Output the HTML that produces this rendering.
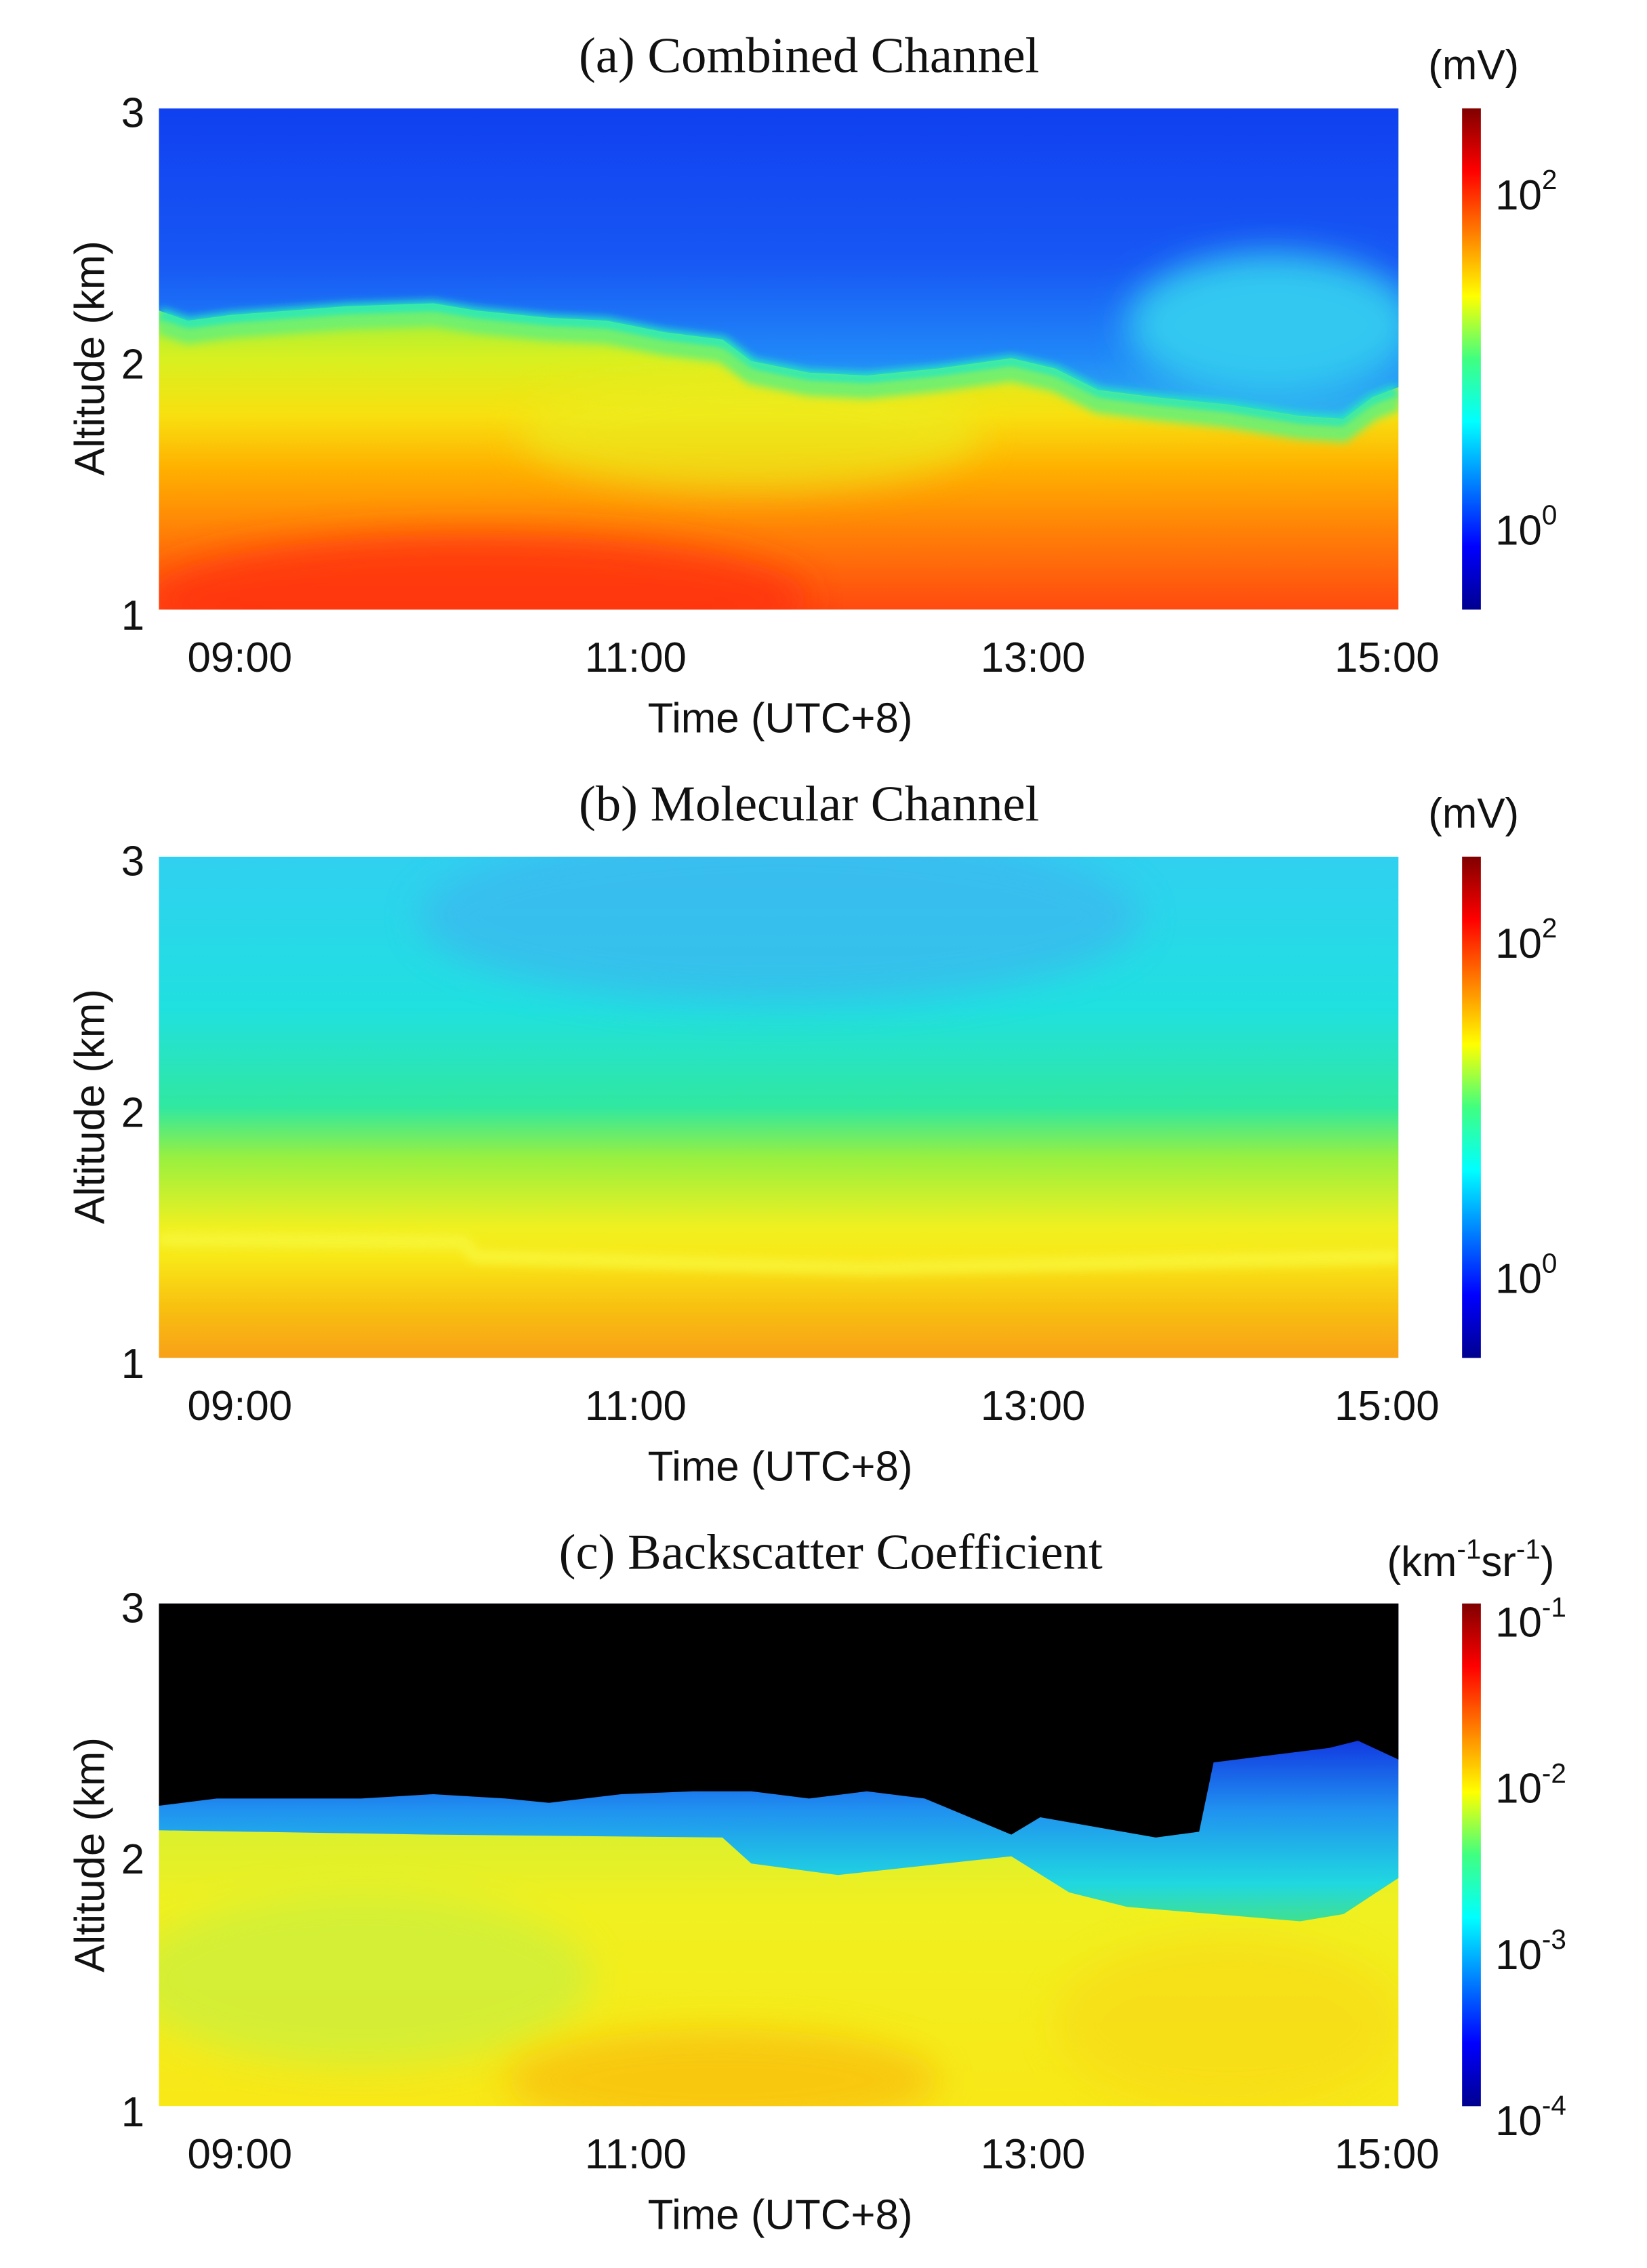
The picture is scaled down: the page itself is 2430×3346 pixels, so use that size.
<!DOCTYPE html>
<html><head><meta charset="utf-8"><style>
html,body{margin:0;padding:0;background:#fff;}
svg{display:block;}
.t{font-family:"Liberation Serif",serif;font-size:35px;fill:#111;}
.k{font-family:"Liberation Sans",sans-serif;font-size:29px;fill:#111;}
</style></head><body>
<svg width="2430" height="3346" viewBox="0 0 1140 1570" preserveAspectRatio="none" xmlns="http://www.w3.org/2000/svg">
<defs>
<linearGradient id="jet" x1="0" y1="1" x2="0" y2="0">
<stop offset="0" stop-color="#00008f"/><stop offset="0.125" stop-color="#0000ff"/><stop offset="0.375" stop-color="#00ffff"/><stop offset="0.5" stop-color="#40ff80"/><stop offset="0.625" stop-color="#ffff00"/><stop offset="0.875" stop-color="#ff0000"/><stop offset="1" stop-color="#800000"/>
</linearGradient>
<filter id="b3" x="-20%" y="-50%" width="140%" height="200%"><feGaussianBlur stdDeviation="3"/></filter>
<filter id="b8" x="-50%" y="-100%" width="200%" height="300%"><feGaussianBlur stdDeviation="12"/></filter>
<linearGradient id="aLow" gradientUnits="userSpaceOnUse" x1="0" y1="205" x2="0" y2="422">
<stop offset="0" stop-color="#90f040"/><stop offset="0.2" stop-color="#d8f020"/><stop offset="0.38" stop-color="#f8e010"/><stop offset="0.55" stop-color="#ffb000"/><stop offset="0.78" stop-color="#ff7a08"/><stop offset="1" stop-color="#ff4a10"/>
</linearGradient>
<linearGradient id="aUp" gradientUnits="userSpaceOnUse" x1="0" y1="75" x2="0" y2="290">
<stop offset="0" stop-color="#1040f0"/><stop offset="0.5" stop-color="#1858f4"/><stop offset="0.8" stop-color="#2088f8"/><stop offset="1" stop-color="#30b0f0"/>
</linearGradient>
<linearGradient id="bG" gradientUnits="userSpaceOnUse" x1="0" y1="593" x2="0" y2="940">
<stop offset="0" stop-color="#30d0f0"/><stop offset="0.3" stop-color="#20e0e0"/><stop offset="0.5" stop-color="#30e8a0"/><stop offset="0.6" stop-color="#98f040"/><stop offset="0.74" stop-color="#f0f020"/><stop offset="0.8" stop-color="#f8e818"/><stop offset="0.9" stop-color="#f8c010"/><stop offset="1" stop-color="#f8a018"/>
</linearGradient>
<linearGradient id="cLow" gradientUnits="userSpaceOnUse" x1="0" y1="1260" x2="0" y2="1458">
<stop offset="0" stop-color="#d8f030"/><stop offset="0.3" stop-color="#f0f020"/><stop offset="1" stop-color="#f8e818"/>
</linearGradient>
<linearGradient id="cMid" gradientUnits="userSpaceOnUse" x1="0" y1="1200" x2="0" y2="1330">
<stop offset="0" stop-color="#1030e0"/><stop offset="0.4" stop-color="#2090f0"/><stop offset="0.8" stop-color="#20d8e0"/><stop offset="1" stop-color="#40e090"/>
</linearGradient>
<clipPath id="ca"><rect x="110" y="75" width="858" height="347"/></clipPath>
<clipPath id="cb"><rect x="110" y="593" width="858" height="347"/></clipPath>
<clipPath id="cc"><rect x="110" y="1110" width="858" height="348"/></clipPath>
</defs>

<!-- Panel a -->
<g clip-path="url(#ca)">
<rect x="110" y="75" width="858" height="347" fill="url(#aLow)"/>
<ellipse cx="330" cy="415" rx="230" ry="45" fill="#ff3010" filter="url(#b8)" opacity="0.8"/>
<ellipse cx="520" cy="300" rx="160" ry="40" fill="#e8f020" filter="url(#b8)" opacity="0.6"/>
<polygon points="110,75 968,75 968,268 950,275 930,290 900,288 850,280 800,275 760,270 730,255 700,248 650,255 600,260 560,258 520,250 500,235 460,230 420,222 380,220 330,215 300,210 240,212 200,215 160,218 130,222 110,215" fill="url(#aUp)"/>
<ellipse cx="880" cy="225" rx="100" ry="50" fill="#30c8f0" filter="url(#b8)"/>
<polyline points="110,218 130,225 160,221 200,218 240,215 300,213 330,218 380,223 420,225 460,233 500,238 520,253 560,261 600,263 650,258 700,251 730,258 760,273 800,278 850,283 900,291 930,293 950,278 968,271" fill="none" stroke="#20e8c0" stroke-width="10" filter="url(#b3)"/>
<polyline points="110,226 130,233 160,229 200,226 240,223 300,221 330,226 380,231 420,233 460,241 500,246 520,261 560,269 600,271 650,266 700,259 730,266 760,281 800,286 850,291 900,299 930,301 950,286 968,279" fill="none" stroke="#70f070" stroke-width="10" filter="url(#b3)"/>
</g>
<rect x="1012" y="75" width="13" height="347" fill="url(#jet)"/>
<text class="t" x="560" y="50" text-anchor="middle">(a) Combined Channel</text>
<text class="k" x="1020" y="55" text-anchor="middle">(mV)</text>
<text class="k" x="1035" y="145">10<tspan dy="-14" font-size="19">2</tspan></text>
<text class="k" x="1035" y="377">10<tspan dy="-14" font-size="19">0</tspan></text>
<g class="k" text-anchor="end"><text x="100" y="88">3</text><text x="100" y="262">2</text><text x="100" y="436">1</text></g>
<g class="k" text-anchor="middle"><text x="166" y="465">09:00</text><text x="440" y="465">11:00</text><text x="715" y="465">13:00</text><text x="960" y="465">15:00</text></g>
<text class="k" x="540" y="507" text-anchor="middle">Time (UTC+8)</text>
<text class="k" transform="translate(72,248) rotate(-90)" text-anchor="middle">Altitude (km)</text>

<!-- Panel b -->
<g clip-path="url(#cb)">
<rect x="110" y="593" width="858" height="347" fill="url(#bG)"/>
<ellipse cx="540" cy="635" rx="250" ry="60" fill="#40b0f0" filter="url(#b8)" opacity="0.6"/>
<path d="M110,858 L320,860 L330,870 L600,878 L968,870" fill="none" stroke="#f8f840" stroke-width="10" filter="url(#b3)" opacity="0.7"/>
</g>
<rect x="1012" y="593" width="13" height="347" fill="url(#jet)"/>
<text class="t" x="560" y="568" text-anchor="middle">(b) Molecular Channel</text>
<text class="k" x="1020" y="573" text-anchor="middle">(mV)</text>
<text class="k" x="1035" y="663">10<tspan dy="-14" font-size="19">2</tspan></text>
<text class="k" x="1035" y="895">10<tspan dy="-14" font-size="19">0</tspan></text>
<g class="k" text-anchor="end"><text x="100" y="606">3</text><text x="100" y="780">2</text><text x="100" y="954">1</text></g>
<g class="k" text-anchor="middle"><text x="166" y="983">09:00</text><text x="440" y="983">11:00</text><text x="715" y="983">13:00</text><text x="960" y="983">15:00</text></g>
<text class="k" x="540" y="1025" text-anchor="middle">Time (UTC+8)</text>
<text class="k" transform="translate(72,766) rotate(-90)" text-anchor="middle">Altitude (km)</text>

<!-- Panel c -->
<g clip-path="url(#cc)">
<rect x="110" y="1110" width="858" height="348" fill="url(#cLow)"/>
<ellipse cx="250" cy="1370" rx="160" ry="60" fill="#c8f040" filter="url(#b8)" opacity="0.7"/>
<ellipse cx="500" cy="1440" rx="150" ry="35" fill="#f8c010" filter="url(#b8)" opacity="0.8"/>
<ellipse cx="850" cy="1400" rx="120" ry="60" fill="#f8d818" filter="url(#b8)" opacity="0.6"/>
<polygon points="110,1110 968,1110 968,1300 930,1325 900,1330 780,1320 740,1310 700,1285 580,1298 520,1290 500,1272 300,1270 110,1267" fill="url(#cMid)"/>
<polygon points="110,1110 968,1110 968,1218 940,1205 920,1210 880,1215 840,1220 830,1268 800,1272 760,1265 720,1258 700,1270 640,1245 600,1240 560,1245 520,1240 480,1240 430,1242 380,1248 350,1245 300,1242 250,1245 150,1245 110,1250" fill="#000"/>
</g>
<rect x="1012" y="1110" width="13" height="348" fill="url(#jet)"/>
<text class="t" x="575" y="1086" text-anchor="middle">(c) Backscatter Coefficient</text>
<text class="k" x="1018" y="1091" text-anchor="middle">(km<tspan dy="-12" font-size="19">-1</tspan><tspan dy="12">sr</tspan><tspan dy="-12" font-size="19">-1</tspan><tspan dy="12">)</tspan></text>
<text class="k" x="1035" y="1133">10<tspan dy="-14" font-size="19">-1</tspan></text>
<text class="k" x="1035" y="1248">10<tspan dy="-14" font-size="19">-2</tspan></text>
<text class="k" x="1035" y="1363">10<tspan dy="-14" font-size="19">-3</tspan></text>
<text class="k" x="1035" y="1478">10<tspan dy="-14" font-size="19">-4</tspan></text>
<g class="k" text-anchor="end"><text x="100" y="1123">3</text><text x="100" y="1297">2</text><text x="100" y="1472">1</text></g>
<g class="k" text-anchor="middle"><text x="166" y="1501">09:00</text><text x="440" y="1501">11:00</text><text x="715" y="1501">13:00</text><text x="960" y="1501">15:00</text></g>
<text class="k" x="540" y="1543" text-anchor="middle">Time (UTC+8)</text>
<text class="k" transform="translate(72,1284) rotate(-90)" text-anchor="middle">Altitude (km)</text>
</svg>
</body></html>
